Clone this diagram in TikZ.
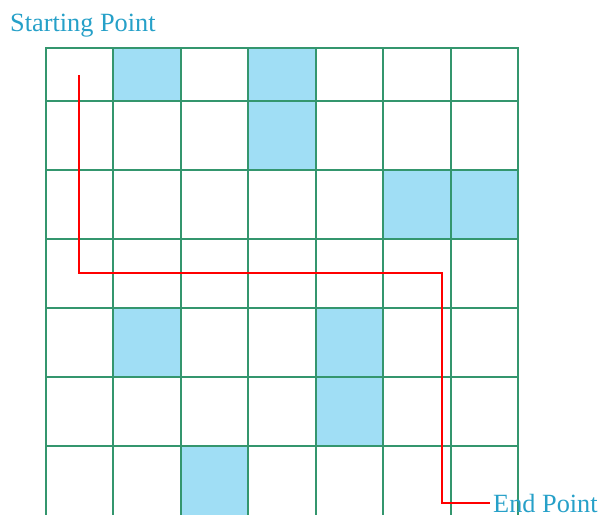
\documentclass[tikz,border=0pt]{standalone}
\usepackage{fontspec}
\setmainfont{Liberation Serif}
\usetikzlibrary{positioning}
\definecolor{gridgreen}{RGB}{52,150,110}
\definecolor{cellblue}{RGB}{160,222,245}
\definecolor{labelblue}{RGB}{38,160,200}

\begin{document}
\begin{tikzpicture}[
    x=1pt, y=-1pt,
    gridline/.style={draw=gridgreen, line width=2pt},
    route/.style={draw=red, line width=1.8pt},
    lbl/.style={text=labelblue, font=\fontsize{26.3}{31}\selectfont, inner sep=0pt}
]
\useasboundingbox (0,0) rectangle (599,515);

% shaded cells (column/row)
\foreach \c/\r in {1/0,3/0,3/1,5/2,6/2,1/4,4/4,4/5,2/6}
  \fill[cellblue] ({46+67.43*\c},{max(48,32+69*\r)}) rectangle ({46+67.43*(\c+1)},{101+69*\r});

% grid
\foreach \i in {0,...,7}
  \draw[gridline] ({46+67.43*\i},48) -- ({46+67.43*\i},515);
\foreach \y in {48,101,170,239,308,377,446}
  \draw[gridline] (45,\y) -- (519,\y);

\node[lbl, anchor=base west] (startpt) at (10,31) {Starting Point};
\node[lbl, anchor=base west, inner xsep=3pt] (endpt) at (490,512) {End Point};

\coordinate (start) at (79,75);
\coordinate (bend) at (442,273);

\draw[route] (start) |- (bend) |- (endpt.west);

\end{tikzpicture}
\end{document}
